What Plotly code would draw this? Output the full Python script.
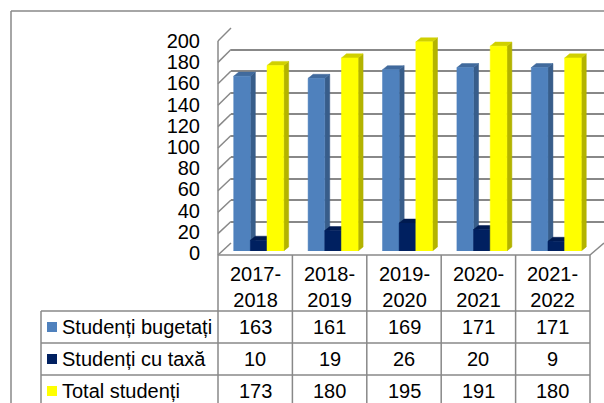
import plotly.graph_objects as go

# data
categories = ["2017-2018", "2018-2019", "2019-2020", "2020-2021", "2021-2022"]
series_names = ["Studenți bugetați", "Studenți cu taxă", "Total studenți"]
bugetati = [163, 161, 169, 171, 171]
cu_taxa = [10, 19, 26, 20, 9]
total = [173, 180, 195, 191, 180]
y_ticks = list(range(0, 201, 20))

W, H = 604, 403
FONT = "Liberation Sans, Arial, sans-serif"
GRID = "#888888"


def PX(x):
    return x / W


def PY(y):
    return 1 - y / H


# colours: front, side, top
styles = [
    ("#4f81bd", "#385d8a", "#416a9d"),
    ("#002060", "#001544", "#001a50"),
    ("#ffff00", "#b3b300", "#d0d000"),
]
values = [bugetati, cu_taxa, total]

# bar geometry in category units (x2 axis) and value units (y2 axis)
bar_w = 0.224
bar_left = [-0.289, -0.065, 0.159]
dx = 0.067
dy = 3.8

fig = go.Figure()

# back wall gridlines live on the x/y subplot (drawn first)
fig.add_trace(go.Scatter(x=[None], y=[None], xaxis="x", yaxis="y",
                         showlegend=False, hoverinfo="skip"))
# front axis for tick labels
fig.add_trace(go.Scatter(x=[None], y=[None], xaxis="x", yaxis="y3",
                         showlegend=False, hoverinfo="skip"))


def poly(xs, ys, color, xa="x2", ya="y2"):
    return go.Scatter(x=xs, y=ys, mode="lines", fill="toself", fillcolor=color,
                      line=dict(width=0.5, color=color), xaxis=xa, yaxis=ya,
                      showlegend=False, hoverinfo="skip")


for s, vals in enumerate(values):
    front, side, top = styles[s]
    fx, fy, sx, sy, tx, ty = [], [], [], [], [], []
    for i, v in enumerate(vals):
        l = i + bar_left[s]
        r = l + bar_w
        fx += [l, r, r, l, l, None]
        fy += [0, 0, v, v, 0, None]
        sx += [r, r + dx, r + dx, r, r, None]
        sy += [0, dy, v + dy, v, 0, None]
        tx += [l, l + dx, r + dx, r, l, None]
        ty += [v, v + dy, v + dy, v, v, None]
    fig.add_trace(poly(sx, sy, side))
    fig.add_trace(poly(tx, ty, top))
    fig.add_trace(poly(fx, fy, front))

shapes = []
line = dict(color=GRID, width=1.5)

# outer frame (runs off the right and bottom edges)
shapes.append(dict(type="line", xref="paper", yref="paper", x0=PX(11), x1=1.01,
                   y0=PY(11), y1=PY(11), line=line))
shapes.append(dict(type="line", xref="paper", yref="paper", x0=PX(11), x1=PX(11),
                   y0=PY(11), y1=-0.01, line=line))

# left wall
shapes.append(dict(type="line", xref="paper", yref="paper", x0=PX(218), x1=PX(218),
                   y0=PY(41), y1=PY(255), line=line))
for v in y_ticks:
    shapes.append(dict(type="line", xref="paper", yref="paper",
                       x0=PX(218), y0=PY(255 - v * 1.07),
                       x1=PX(231), y1=PY(243 - v * 1.075), line=line))

# floor right edge
shapes.append(dict(type="line", xref="paper", yref="paper", x0=PX(590), y0=PY(255),
                   x1=PX(604), y1=PY(243), line=line))

# data table grid
col_edges = [218 + k * 74.4 for k in range(len(categories) + 1)]
row_edges = [311, 343, 375, 407]
shapes.append(dict(type="line", xref="paper", yref="paper", x0=PX(218), x1=PX(590),
                   y0=PY(255), y1=PY(255), line=line))
for y in row_edges:
    shapes.append(dict(type="line", xref="paper", yref="paper", x0=PX(41), x1=PX(590),
                       y0=PY(y), y1=PY(y), line=line))
for x in col_edges:
    shapes.append(dict(type="line", xref="paper", yref="paper", x0=PX(x), x1=PX(x),
                       y0=PY(255), y1=-0.02, line=line))
shapes.append(dict(type="line", xref="paper", yref="paper", x0=PX(41), x1=PX(41),
                   y0=PY(311), y1=-0.02, line=line))

annotations = []
tfont = dict(family=FONT, size=20, color="#000000")

# category headers
for i, c in enumerate(categories):
    a, b = c.split("-")
    annotations.append(dict(x=i, xref="x2", y=PY(287), yref="paper",
                            text=f"{a}-<br>{b}", showarrow=False, font=tfont,
                            xanchor="center", yanchor="middle"))

# table rows: legend key, name, values
for s, vals in enumerate(values):
    top_y = row_edges[s]
    mid = top_y + 16
    shapes.append(dict(type="rect", xref="paper", yref="paper",
                       x0=PX(47), x1=PX(57), y0=PY(mid - 5), y1=PY(mid + 5),
                       fillcolor=styles[s][0], line=dict(width=0)))
    annotations.append(dict(x=PX(60), xref="paper", y=PY(mid), yref="paper",
                            text=series_names[s], showarrow=False, font=tfont,
                            xanchor="left", yanchor="middle"))
    for i, v in enumerate(vals):
        annotations.append(dict(x=i, xref="x2", y=PY(mid), yref="paper",
                                text=str(v), showarrow=False, font=tfont,
                                xanchor="center", yanchor="middle"))

fig.update_layout(
    width=W, height=H,
    margin=dict(l=0, r=0, t=0, b=0, pad=0, autoexpand=False),
    paper_bgcolor="white", plot_bgcolor="rgba(0,0,0,0)",
    showlegend=False,
    font=tfont,
    shapes=shapes,
    annotations=annotations,
    # back wall
    xaxis=dict(domain=[PX(231), 1], range=[0, 1], visible=False, fixedrange=True,
               automargin=False),
    yaxis=dict(domain=[PY(243), PY(28)], range=[0, 200], tickvals=y_ticks,
               showgrid=True, gridcolor=GRID, gridwidth=1.6, zeroline=False,
               showticklabels=False, ticks="", showline=False, fixedrange=True,
               automargin=False),
    # bars
    xaxis2=dict(domain=[PX(218), PX(590)], range=[-0.5, len(categories) - 0.5],
                visible=False, anchor="y2", fixedrange=True, automargin=False),
    yaxis2=dict(domain=[PY(251), PY(251 - 200 * 1.0725)], range=[0, 200],
                visible=False, anchor="x2", fixedrange=True, automargin=False),
    # front value labels
    yaxis3=dict(domain=[PY(253), PY(41)], range=[0, 200], tickvals=y_ticks,
                anchor="free", position=PX(218), side="left", showgrid=False,
                zeroline=False, showline=False, ticks="", ticklabelstandoff=18,
                tickfont=tfont, fixedrange=True, automargin=False),
)

fig.write_html("out.html", config={"displayModeBar": False},
               post_script="document.body.style.margin='0px';")
